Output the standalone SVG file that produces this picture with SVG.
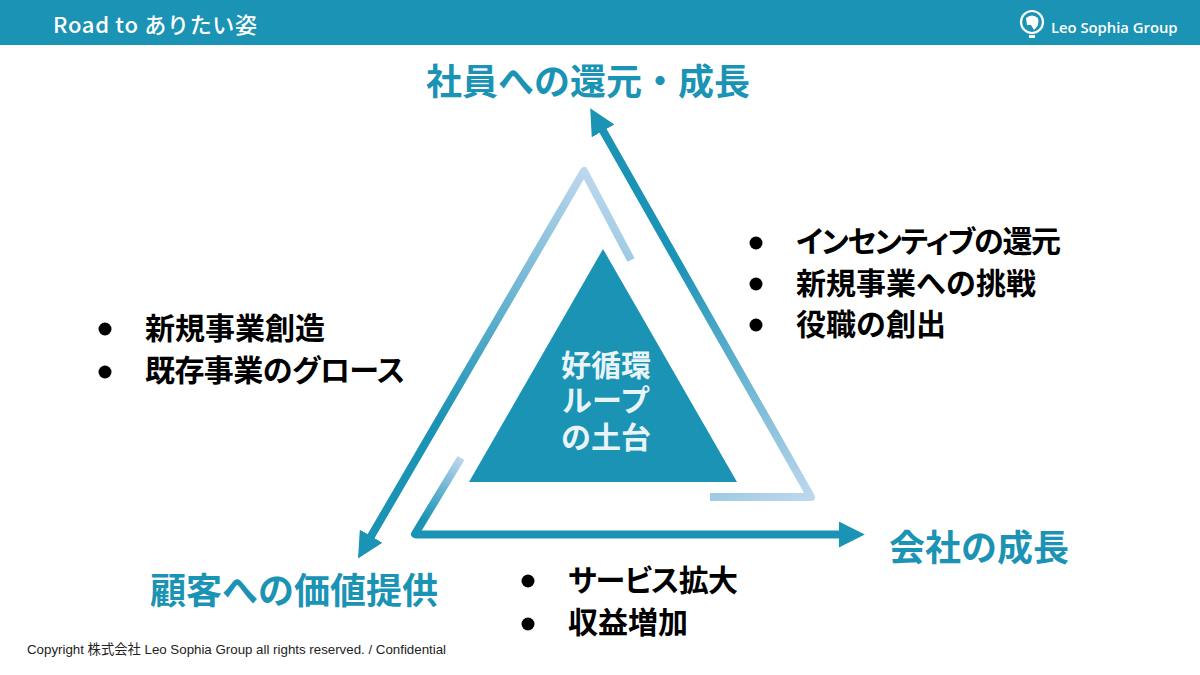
<svg xmlns="http://www.w3.org/2000/svg" width="1200" height="675" viewBox="0 0 1200 675">
  <style>
    .cjk { font-family: "Noto Sans CJK JP", "Noto Sans", sans-serif; font-weight: 700; }
    .head { fill: #1a93b5; font-size: 36px; }
    .item { fill: #000; font-size: 30px; }
    .kana { font-feature-settings: "palt"; }
    .dot { fill: #000; }
    .flow { fill: none; stroke-width: 8; stroke-linejoin: round; }
    .arrowhead { fill: #1a93b5; }
    .logo { fill: none; stroke: #fff; }
  </style>
  <defs>
    <linearGradient id="g1" gradientUnits="userSpaceOnUse" x1="811" y1="497" x2="675" y2="265">
      <stop offset="0" stop-color="#bdd7ee"/><stop offset="1" stop-color="#1a93b5"/>
    </linearGradient>
    <linearGradient id="g2" gradientUnits="userSpaceOnUse" x1="584" y1="172" x2="440" y2="420">
      <stop offset="0" stop-color="#bdd7ee"/><stop offset="1" stop-color="#1a93b5"/>
    </linearGradient>
    <linearGradient id="g3" gradientUnits="userSpaceOnUse" x1="461" y1="458" x2="425" y2="520">
      <stop offset="0" stop-color="#bdd7ee"/><stop offset="1" stop-color="#1a93b5"/>
    </linearGradient>
    <marker id="tip" markerUnits="userSpaceOnUse" markerWidth="26" markerHeight="26" refX="2" refY="12" orient="auto" viewBox="0 0 24 24">
      <path class="arrowhead" d="M0 0 L24 12 L0 24 Z"/>
    </marker>
  </defs>

  <g id="header">
    <rect x="0" y="0" width="1200" height="45" fill="#1a93b5"/>
    <text x="53" y="33" font-family="'Noto Sans CJK JP','Noto Sans',sans-serif" font-weight="500" font-size="22" fill="#fff" letter-spacing="0.7">Road to ありたい姿</text>
  </g>
  <g id="logo">
    <circle class="logo" cx="1032" cy="22" r="11" stroke-width="2.2"/>
    <path d="M1026 18 Q1032 13 1038 18 Q1040 25 1034 30 L1031 25 L1027 25 Z" fill="#fff"/>
    <rect x="1029" y="35" width="6" height="3" fill="#fff"/>
    <text x="1051" y="33" font-family="'Open Sans','Noto Sans',sans-serif" font-weight="600" font-size="14.8" fill="#fff">Leo Sophia Group</text>
  </g>

  <g id="connectors">
    <path class="flow" stroke="url(#g1)" marker-end="url(#tip)" d="M710 497 H811 L602 129"/>
    <path class="flow" stroke="url(#g2)" marker-end="url(#tip)" d="M631 260 L584 171 L370 538"/>
    <path class="flow" stroke="url(#g3)" d="M461 458 L415 534 H420"/>
    <path class="flow" stroke="#1a93b5" marker-end="url(#tip)" d="M415 534.500 H841"/>
  </g>

  <g id="center">
    <polygon points="603,249 737,482 469,482" fill="#1a93b5"/>
    <text class="cjk" fill="#fff" font-size="30" text-anchor="middle" opacity="0.9"><tspan x="606" y="376">好循環</tspan><tspan x="606" y="411">ループ</tspan><tspan x="606" y="448">の土台</tspan></text>
  </g>

  <g id="node-employee"><text class="cjk head" x="588" y="95" text-anchor="middle">社員への還元・成長</text></g>
  <g id="node-company"><text class="cjk head" x="979" y="561" text-anchor="middle">会社の成長</text></g>
  <g id="node-customer"><text class="cjk head" x="294" y="604" text-anchor="middle">顧客への価値提供</text></g>

  <g id="list-right">
    <circle class="dot" cx="756" cy="243" r="6.500"/><text class="cjk item" x="796" y="252" textLength="265" lengthAdjust="spacing"><tspan class="kana">インセンティブ</tspan>の還元</text>
    <circle class="dot" cx="756" cy="284" r="6.500"/><text class="cjk item" x="796" y="294">新規事業への挑戦</text>
    <circle class="dot" cx="756" cy="325" r="6.500"/><text class="cjk item" x="796" y="335">役職の創出</text>
  </g>
  <g id="list-left">
    <circle class="dot" cx="105" cy="329" r="6.500"/><text class="cjk item" x="145" y="339">新規事業創造</text>
    <circle class="dot" cx="105" cy="372" r="6.500"/><text class="cjk item" x="145" y="381" textLength="260" lengthAdjust="spacing">既存事業の<tspan class="kana">グロース</tspan></text>
  </g>
  <g id="list-bottom">
    <circle class="dot" cx="528" cy="581" r="6.500"/><text class="cjk item" x="568" y="591" textLength="170" lengthAdjust="spacing"><tspan class="kana">サービス</tspan>拡大</text>
    <circle class="dot" cx="528" cy="624" r="6.500"/><text class="cjk item" x="568" y="633">収益増加</text>
  </g>

  <text id="copyright" x="27" y="654" font-family="'Liberation Sans','Noto Sans CJK JP',sans-serif" font-size="13.300" fill="#222">Copyright 株式会社 Leo Sophia Group all rights reserved. / Confidential</text>
</svg>
